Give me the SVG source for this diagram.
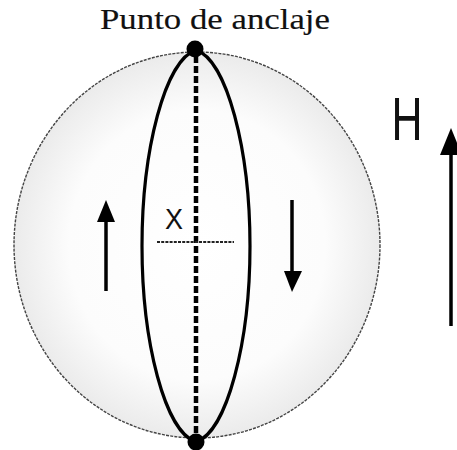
<svg xmlns="http://www.w3.org/2000/svg" width="457" height="450" viewBox="0 0 457 450">
<style>
.arrow{stroke:#000;stroke-width:3.5;fill:none}
.head{fill:#000}
</style>
<defs>
<radialGradient id="shade" cx="0.5" cy="0.5" r="0.5">
<stop offset="0" stop-color="#ffffff"/>
<stop offset="0.7" stop-color="#fcfcfc"/>
<stop offset="1" stop-color="#ebebeb"/>
</radialGradient>
</defs>
<rect width="457" height="450" fill="#fff"/>
<g id="sphere">
<ellipse cx="197" cy="245" rx="183" ry="193" fill="url(#shade)" stroke="#444" stroke-width="1.4" stroke-dasharray="3 1.2"/>
</g>
<g id="title">
<text x="215" y="29" text-anchor="middle" font-family="Liberation Serif, serif" font-size="29" textLength="230" lengthAdjust="spacingAndGlyphs" fill="#111" stroke="#111" stroke-width="0.15">Punto de anclaje</text>
</g>
<g id="lens">
<path d="M196,50 C165,60 142,150 142,246 C142,342 165,432 196,442 C227,432 250,342 250,246 C250,150 227,60 196,50 Z" fill="none" stroke="#000" stroke-width="3.2"/>
</g>
<g id="connectors">
<line x1="196" y1="56" x2="196" y2="436" stroke="#000" stroke-width="4.5" stroke-dasharray="7 3"/>
<line x1="157" y1="242" x2="234" y2="242" stroke="#222" stroke-width="2" stroke-dasharray="3 1.2"/>
<line class="arrow" x1="106" y1="291" x2="106" y2="216"/>
<polygon class="head" points="106,200 97,222 115,222"/>
<line class="arrow" x1="292" y1="200" x2="292" y2="276"/>
<polygon class="head" points="292,292 284,271 302,271"/>
<line class="arrow" x1="451" y1="326" x2="451" y2="148"/>
<polygon class="head" points="451,128 440,155 462,155"/>
</g>
<g id="anchor-top"><circle cx="195" cy="49" r="8.5" fill="#000"/></g>
<g id="anchor-bottom"><circle cx="196" cy="442" r="8.5" fill="#000"/></g>
<g id="label-x">
<text x="174" y="229" text-anchor="middle" font-family="Liberation Sans, sans-serif" font-size="30" textLength="18" lengthAdjust="spacingAndGlyphs" fill="#111">X</text>
</g>
<g id="label-h">
<text x="407" y="140" text-anchor="middle" font-family="Liberation Sans, sans-serif" font-size="62" textLength="31" lengthAdjust="spacingAndGlyphs" fill="#111">H</text>
</g>
</svg>
